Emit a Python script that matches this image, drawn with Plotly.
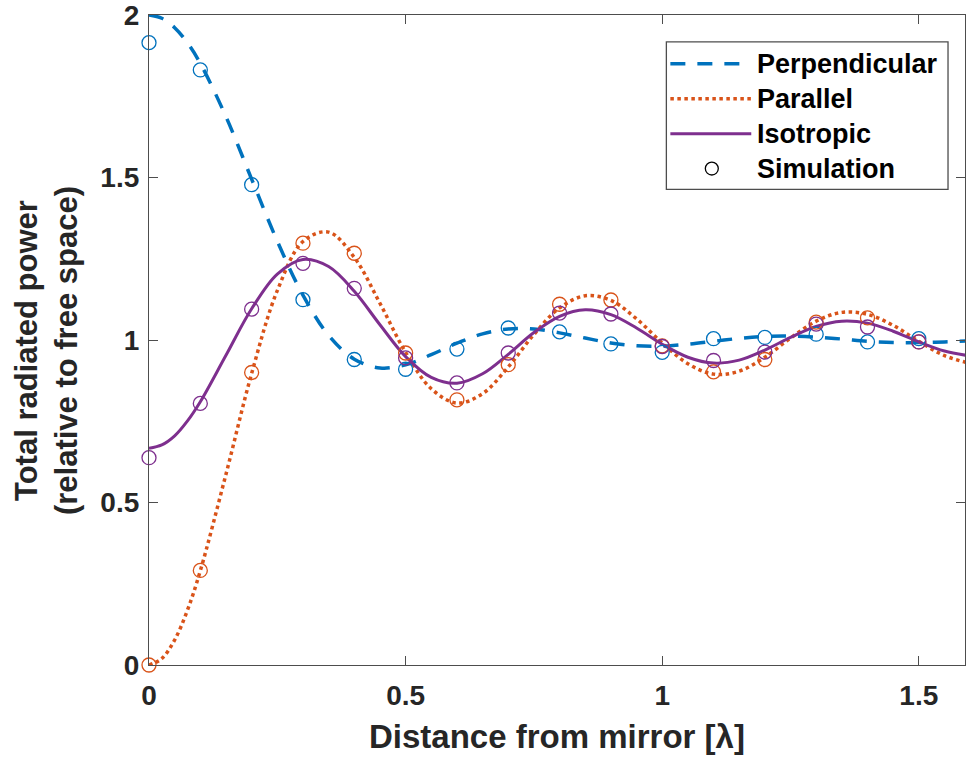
import plotly.graph_objects as go

# Distance from mirror (in wavelengths) for the theory curves
d_curve = [0.00, 0.025, 0.05, 0.075, 0.10, 0.15, 0.20, 0.25, 0.30, 0.35, 0.40, 0.45,
           0.50, 0.55, 0.60, 0.65, 0.70, 0.75, 0.80, 0.85, 0.90, 0.95,
           1.00, 1.05, 1.10, 1.15, 1.20, 1.25, 1.30, 1.35, 1.40, 1.45,
           1.50, 1.55, 1.60]

perpendicular = [2.000, 1.990, 1.961, 1.914, 1.851, 1.687, 1.495, 1.304, 1.138, 1.014, 0.941, 0.914,
                 0.924, 0.955, 0.990, 1.019, 1.034, 1.034, 1.022, 1.006, 0.991, 0.982,
                 0.981, 0.987, 0.996, 1.005, 1.011, 1.012, 1.009, 1.003, 0.996, 0.992,
                 0.992, 0.994, 0.998]

parallel = [0.000, 0.020, 0.077, 0.169, 0.290, 0.587, 0.897, 1.152, 1.303, 1.332, 1.254, 1.113,
            0.962, 0.850, 0.806, 0.835, 0.917, 1.017, 1.099, 1.136, 1.122, 1.065,
            0.991, 0.927, 0.895, 0.904, 0.947, 1.006, 1.058, 1.085, 1.079, 1.045,
            0.996, 0.952, 0.928]

isotropic = [0.667, 0.677, 0.705, 0.751, 0.810, 0.953, 1.096, 1.203, 1.248, 1.226, 1.150, 1.047,
             0.949, 0.885, 0.867, 0.896, 0.956, 1.023, 1.073, 1.093, 1.078, 1.037,
             0.987, 0.947, 0.929, 0.938, 0.969, 1.008, 1.042, 1.058, 1.052, 1.027,
             0.994, 0.966, 0.951]

# Simulation points
d_sim = [0.0, 0.1, 0.2, 0.3, 0.4, 0.5, 0.6, 0.7, 0.8, 0.9, 1.0, 1.1, 1.2, 1.3, 1.4, 1.5]
sim_perp = [1.915, 1.831, 1.478, 1.124, 0.940, 0.910, 0.972, 1.037, 1.025, 0.988,
            0.962, 1.004, 1.008, 1.018, 0.994, 1.004]
sim_par = [0.000, 0.291, 0.900, 1.298, 1.267, 0.960, 0.816, 0.924, 1.110, 1.123,
           0.982, 0.902, 0.940, 1.055, 1.068, 0.994]
sim_iso = [0.638, 0.805, 1.095, 1.236, 1.159, 0.945, 0.868, 0.960, 1.083, 1.080,
           0.980, 0.937, 0.963, 1.049, 1.040, 0.994]

x_ticks = [0, 0.5, 1, 1.5]
x_ticklabels = ["0", "0.5", "1", "1.5"]
y_ticks = [0, 0.5, 1, 1.5, 2]
y_ticklabels = ["0", "0.5", "1", "1.5", "2"]

BLUE = "#0072BD"
ORANGE = "#D95319"
PURPLE = "#7E2F8E"
TXT = "#262626"
AX = "#4d4d4d"
FONT = "Liberation Sans"

fig = go.Figure()
fig.add_trace(go.Scatter(x=d_curve, y=perpendicular, mode="lines", name="Perpendicular",
                         line=dict(color=BLUE, width=3.5, dash="15px,12px", shape="spline"),
                         showlegend=False))
fig.add_trace(go.Scatter(x=d_curve, y=parallel, mode="lines", name="Parallel",
                         line=dict(color=ORANGE, width=3.5, dash="dot", shape="spline"),
                         showlegend=False))
fig.add_trace(go.Scatter(x=d_curve, y=isotropic, mode="lines", name="Isotropic",
                         line=dict(color=PURPLE, width=3, shape="spline"),
                         showlegend=False))
for ys, col in [(sim_perp, BLUE), (sim_par, ORANGE), (sim_iso, PURPLE)]:
    fig.add_trace(go.Scatter(x=d_sim, y=ys, mode="markers", name="Simulation",
                             marker=dict(symbol="circle-open", size=14, color=col,
                                         line=dict(width=1.3, color=col)),
                             showlegend=False, cliponaxis=False))

# plot area in pixels: x 149..966, y 13..665
PL, PR, PT, PB = 149, 966, 13, 665
def px(xp):
    return (xp - PL) / (PR - PL)
def py(yp):
    return (PB - yp) / (PB - PT)

shapes = []
annotations = []
# legend box
shapes.append(dict(type="rect", xref="paper", yref="paper", x0=px(667), x1=px(949),
                   y0=py(188), y1=py(40), line=dict(color=AX, width=1.3),
                   fillcolor="white", layer="above"))
leg_rows = [("Perpendicular", 62, dict(color=BLUE, width=3.5, dash="15px,12px")),
            ("Parallel", 97, dict(color=ORANGE, width=3.5, dash="dot")),
            ("Isotropic", 132, dict(color=PURPLE, width=3)),
            ("Simulation", 167, None)]
for label, yy, ln in leg_rows:
    if ln is not None:
        shapes.append(dict(type="line", xref="paper", yref="paper", x0=px(671), x1=px(752),
                           y0=py(yy), y1=py(yy), line=ln, layer="above"))
    else:
        shapes.append(dict(type="circle", xref="paper", yref="paper", x0=px(706), x1=px(719),
                           y0=py(yy + 6.5), y1=py(yy - 6.5), line=dict(color="black", width=1.3),
                           layer="above"))
    annotations.append(dict(text=label, xref="paper", yref="paper", x=px(756), y=py(yy),
                            xanchor="left", yanchor="middle", showarrow=False,
                            font=dict(family=FONT, size=27, color="black", weight="bold")))

# axis titles
annotations.append(dict(text="Distance from mirror [λ]", xref="paper", yref="paper",
                        x=px(558), y=py(737), xanchor="center", yanchor="middle", showarrow=False,
                        font=dict(family=FONT, size=33, color=TXT, weight="bold")))
annotations.append(dict(text="Total radiated power<br>(relative to free space)", xref="paper", yref="paper",
                        x=px(47), y=py(350), xanchor="center", yanchor="middle", showarrow=False,
                        textangle=-90,
                        font=dict(family=FONT, size=31, color=TXT, weight="bold")))

fig.update_layout(
    width=966, height=763,
    margin=dict(l=PL, r=0, t=PT, b=763 - PB),
    plot_bgcolor="white", paper_bgcolor="white",
    shapes=shapes, annotations=annotations,
    showlegend=False,
)
fig.update_xaxes(range=[0, 1.59], tickvals=x_ticks, ticktext=x_ticklabels,
                 showgrid=False, zeroline=False, showline=True, linecolor=AX, linewidth=1.3,
                 mirror="allticks", ticks="inside", ticklen=9, tickcolor=AX, tickwidth=1.3,
                 ticklabelstandoff=5, ticklabeloverflow="allow",
                 tickfont=dict(family=FONT, size=28, color=TXT, weight="bold"))
fig.update_yaxes(range=[0, 2], tickvals=y_ticks, ticktext=y_ticklabels,
                 showgrid=False, zeroline=False, showline=True, linecolor=AX, linewidth=1.3,
                 mirror="allticks", ticks="inside", ticklen=9, tickcolor=AX, tickwidth=1.3,
                 ticklabelstandoff=3, ticklabeloverflow="allow",
                 tickfont=dict(family=FONT, size=28, color=TXT, weight="bold"))

fig.write_html("out.html")
